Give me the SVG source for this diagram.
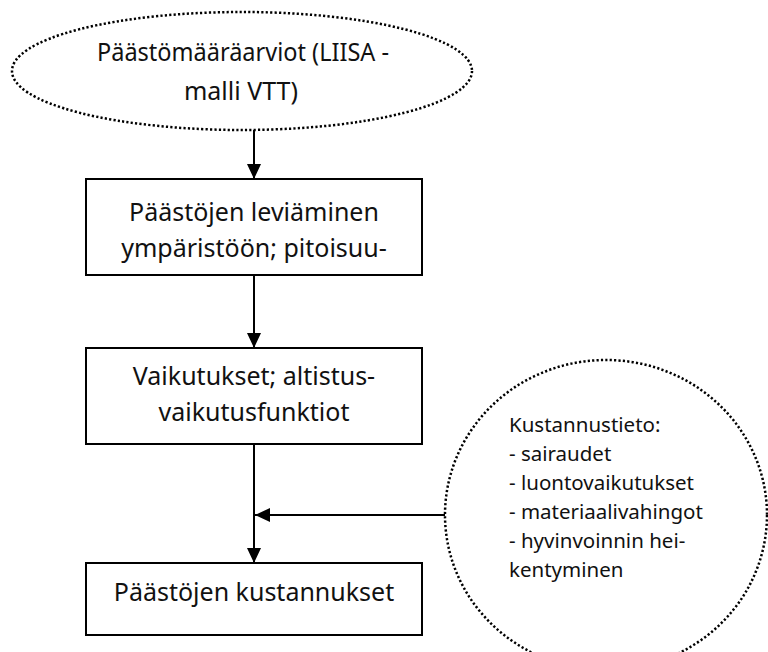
<svg xmlns="http://www.w3.org/2000/svg" width="768" height="652" viewBox="0 0 768 652">
  <style>
    .dotted { fill: #fff; stroke: #000; stroke-width: 2.5; stroke-dasharray: 2.2 2.2; }
    .box { fill: #fff; stroke: #000; stroke-width: 2; }
    .big { font-family: "Noto Sans", "DejaVu Sans", sans-serif; font-size: 25px; fill: #111; text-anchor: middle; }
    .small { font-family: "Noto Sans", "DejaVu Sans", sans-serif; font-size: 20.5px; fill: #111; }
    .conn { stroke: #000; stroke-width: 2; fill: none; marker-end: url(#arrow); }
  </style>
  <defs>
    <marker id="arrow" markerUnits="userSpaceOnUse" markerWidth="16" markerHeight="16" refX="15" refY="7" orient="auto">
      <path d="M0,0 L15,7 L0,14 z" fill="#000"/>
    </marker>
  </defs>
  <rect width="768" height="652" fill="#fff"/>

  <g id="connectors">
    <line class="conn" x1="254" y1="130" x2="254" y2="179"/>
    <line class="conn" x1="254" y1="275" x2="254" y2="348"/>
    <line class="conn" x1="254" y1="444" x2="254" y2="563"/>
    <line class="conn" x1="446" y1="515" x2="255" y2="515"/>
  </g>

  <g id="node-paastomaaraarviot">
    <ellipse class="dotted" cx="242" cy="71" rx="230" ry="59"/>
    <text class="big" x="243" y="61" textLength="292" lengthAdjust="spacingAndGlyphs">Päästömääräarviot (LIISA -</text>
    <text class="big" x="241" y="100">malli VTT)</text>
  </g>

  <g id="node-leviaminen">
    <rect class="box" x="86" y="179" width="336" height="96"/>
    <text class="big" x="254" y="221">Päästöjen leviäminen</text>
    <text class="big" x="254" y="257">ympäristöön; pitoisuu-</text>
  </g>

  <g id="node-vaikutukset">
    <rect class="box" x="86" y="348" width="336" height="96"/>
    <text class="big" x="254" y="385">Vaikutukset; altistus-</text>
    <text class="big" x="254" y="421">vaikutusfunktiot</text>
  </g>

  <g id="node-kustannukset">
    <rect class="box" x="86" y="563" width="336" height="72"/>
    <text class="big" x="254" y="601">Päästöjen kustannukset</text>
  </g>

  <g id="node-kustannustieto">
    <ellipse class="dotted" cx="606" cy="515" rx="161" ry="155"/>
    <text class="small" x="509" y="432">Kustannustieto:</text>
    <text class="small" x="509" y="461">- sairaudet</text>
    <text class="small" x="509" y="490">- luontovaikutukset</text>
    <text class="small" x="509" y="519">- materiaalivahingot</text>
    <text class="small" x="509" y="548">- hyvinvoinnin hei-</text>
    <text class="small" x="509" y="577">kentyminen</text>
  </g>
</svg>
